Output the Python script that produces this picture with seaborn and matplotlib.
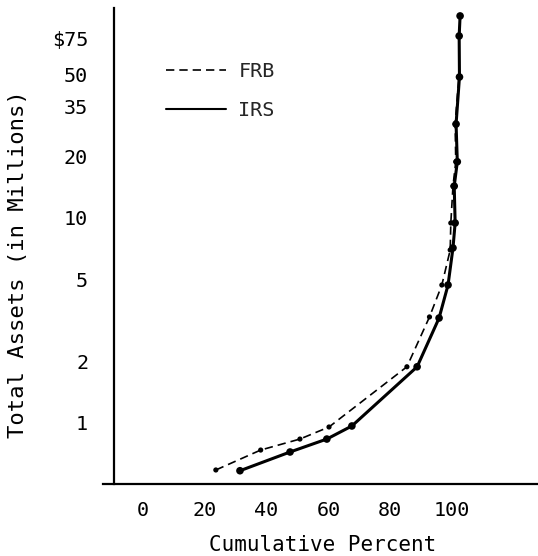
import matplotlib
matplotlib.use("Agg")
import matplotlib.pyplot as plt
from matplotlib.lines import Line2D
from matplotlib.ticker import NullLocator, FixedLocator, FixedFormatter
import seaborn as sns
import pandas as pd

# ---- data ----
irs_pct = [31.4, 47.6, 59.5, 67.6, 88.7, 95.8, 98.7, 100.3, 101.0, 100.7, 101.7, 101.3, 102.4, 102.3, 102.6]
irs_assets = [0.585, 0.722, 0.835, 0.967, 1.88, 3.25, 4.71, 7.14, 9.45, 14.3, 18.8, 28.7, 48.7, 77.2, 96.7]

frb_pct = [23.6, 38.1, 50.8, 60.2, 85.4, 92.7, 96.7, 99.4, 99.6, 100.3, 101.2, 101.0, 102.2, 102.3, 102.6]
frb_assets = [0.59, 0.738, 0.835, 0.956, 1.88, 3.29, 4.71, 6.98, 9.45, 14.3, 18.8, 28.7, 48.7, 77.2, 96.7]

y_tick_values = [75, 50, 35, 20, 10, 5, 2, 1]
y_tick_labels = ["$75", "50", "35", "20", "10", "5", "2", "1"]
x_tick_values = [0, 20, 40, 60, 80, 100]
series_names = ["FRB", "IRS"]

irs = pd.DataFrame({"pct": irs_pct, "assets": irs_assets})
frb = pd.DataFrame({"pct": frb_pct, "assets": frb_assets})

sns.set_style("white")
plt.rcParams["font.family"] = ["DejaVu Sans Mono", "DejaVu Sans"]

W, H = 538, 556
fig = plt.figure(figsize=(W / 100, H / 100), dpi=100)
ax = fig.add_axes([103 / W, 72 / H, (W - 103) / W, (484 - 8) / H])

# lines
sns.lineplot(data=frb, x="pct", y="assets", sort=False, estimator=None, ax=ax,
             color="black", linewidth=1.2, linestyle=(0, (5, 3)))
sns.lineplot(data=irs, x="pct", y="assets", sort=False, estimator=None, ax=ax,
             color="black", linewidth=2.2)
# dots
sns.scatterplot(data=frb, x="pct", y="assets", ax=ax, color="black", s=14,
                edgecolor="none", zorder=3)
sns.scatterplot(data=irs, x="pct", y="assets", ax=ax, color="black", s=30,
                edgecolor="none", zorder=3)

ax.set_yscale("log")
ax.set_xlim(-12.9, 127.8)
ax.set_ylim(0.504, 105.7)

ax.yaxis.set_major_locator(FixedLocator(y_tick_values))
ax.yaxis.set_major_formatter(FixedFormatter(y_tick_labels))
ax.yaxis.set_minor_locator(NullLocator())
ax.set_xticks(x_tick_values)
ax.set_xticklabels([str(v) for v in x_tick_values])

for side in ["top", "right"]:
    ax.spines[side].set_visible(False)
for side in ["left", "bottom"]:
    ax.spines[side].set_linewidth(1.6)
    ax.spines[side].set_color("black")
ax.spines["left"].set_position(("data", -9.4))

ax.tick_params(axis="both", direction="inout", length=7, width=1.4,
               color="black", labelsize=14.5, labelcolor="black")
ax.tick_params(axis="y", pad=15)
ax.tick_params(axis="x", pad=9)

ax.set_xlabel("Cumulative Percent", fontsize=15, color="black")
ax.set_ylabel("Total Assets (in Millions)", fontsize=16, color="black")
ax.xaxis.set_label_coords(0.505, -0.128)
ax.xaxis.label.set_va("center")
ax.yaxis.set_label_coords(-0.196, 0.462)
ax.yaxis.label.set_va("center")

handles = [
    Line2D([], [], color="black", linewidth=1.2, linestyle=(0, (5, 3))),
    Line2D([], [], color="black", linewidth=1.5),
]
leg = ax.legend(handles, series_names, loc="upper left",
                bbox_to_anchor=(166 / W, 1 - 62 / H), bbox_transform=fig.transFigure,
                frameon=False, fontsize=14.5, handlelength=3.0, handletextpad=0.6,
                labelspacing=1.0, borderpad=0, borderaxespad=0)

fig.savefig("out.png", dpi=100)
